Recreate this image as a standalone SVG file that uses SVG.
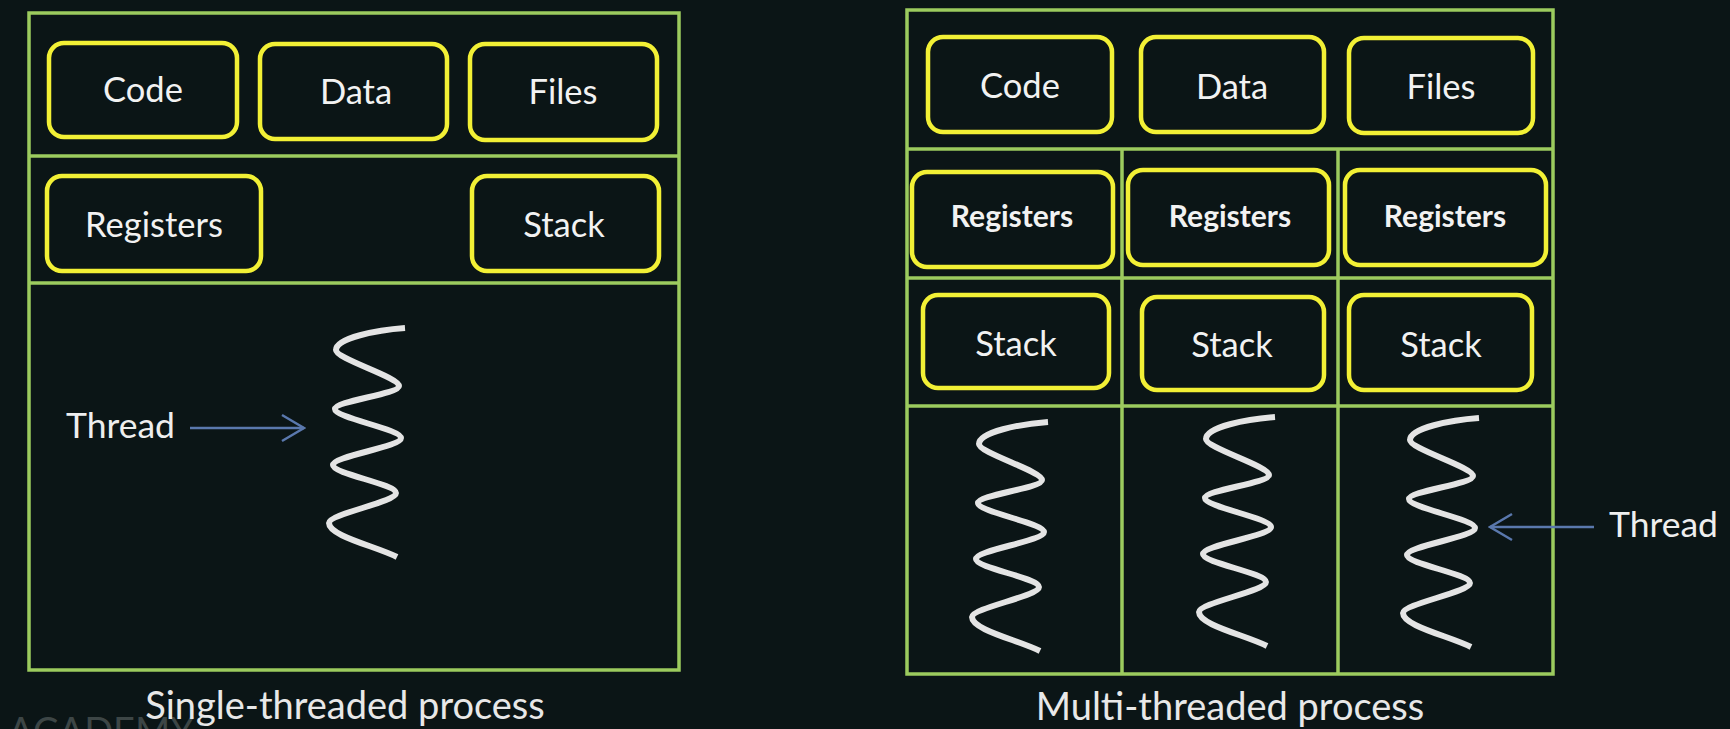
<svg xmlns="http://www.w3.org/2000/svg" width="1730" height="729" viewBox="0 0 1730 729">
<style>
.bg{fill:#0b1516}
.frame{fill:none;stroke:#9ccb5e;stroke-width:3.5}
.div{stroke:#9ccb5e;stroke-width:3.5}
.box{fill:#0b1516;stroke:#f2f035;stroke-width:4.5}
.t{font-family:Lato,"Open Sans","Liberation Sans",sans-serif;fill:#f2f2f2;text-anchor:middle}
.lbl{font-size:34.5px}
.bold{font-size:30px;font-weight:bold}
.title{font-size:38px;fill:#e8e8e8}
.th{font-family:Lato,"Open Sans","Liberation Sans",sans-serif;font-size:35.5px;fill:#eeeeee}
.wm{font-family:Lato,"Open Sans","Liberation Sans",sans-serif;font-size:38px;fill:#3d4646}
.spiral{fill:none;stroke:#e4e4e4;stroke-width:6}
.arrow{stroke:#5a78ad;stroke-width:2.5;fill:none}
</style>
<defs>
<marker id="chev" viewBox="0 0 26 30" refX="24" refY="15" markerWidth="26" markerHeight="30" markerUnits="userSpaceOnUse" orient="auto">
<path d="M2,2 L24,15 L2,28" fill="none" stroke="#5a78ad" stroke-width="2.5"/>
</marker>
<path id="sp" d="M0,0 C-28,2 -69,10 -69,22 C-69,31 -6,49 -6,58 C-6,66 -70,73 -70,81 C-70,90 -4,101 -4,110 C-4,119 -72,128 -72,137 C-72,146 -9,156 -9,165 C-9,174 -76,186 -76,195 C-76,208 -30,218 -8,229"/>
</defs>
<rect class="bg" x="0" y="0" width="1730" height="729"/>
<text class="wm" x="8" y="745">ACADEMY</text>

<g id="single-process">
<rect class="frame" x="29" y="13" width="650" height="657"/>
<line class="div" x1="29" y1="156" x2="679" y2="156"/>
<line class="div" x1="29" y1="283" x2="679" y2="283"/>
</g>
<g id="s-code"><rect class="box" x="49" y="43" width="188" height="94" rx="15"/><text class="t lbl" x="143" y="102">Code</text></g>
<g id="s-data"><rect class="box" x="260" y="44" width="187" height="95" rx="15"/><text class="t lbl" x="356" y="104">Data</text></g>
<g id="s-files"><rect class="box" x="470" y="44" width="187" height="96" rx="15"/><text class="t lbl" x="563" y="104">Files</text></g>
<g id="s-registers"><rect class="box" x="47" y="176" width="214" height="95" rx="15"/><text class="t lbl" x="154" y="237">Registers</text></g>
<g id="s-stack"><rect class="box" x="472" y="176" width="187" height="95" rx="15"/><text class="t lbl" x="564" y="237">Stack</text></g>
<g id="s-thread"><use href="#sp" class="spiral" transform="translate(405,328)"/></g>
<g id="s-thread-label"><text class="th" x="66" y="438">Thread</text></g>
<g id="s-title"><text class="t title" x="345" y="719">Single-threaded process</text></g>

<g id="multi-process">
<rect class="frame" x="907" y="10" width="646" height="664"/>
<line class="div" x1="907" y1="149" x2="1553" y2="149"/>
<line class="div" x1="907" y1="278" x2="1553" y2="278"/>
<line class="div" x1="907" y1="406" x2="1553" y2="406"/>
<line class="div" x1="1122" y1="149" x2="1122" y2="674"/>
<line class="div" x1="1338" y1="149" x2="1338" y2="674"/>
</g>
<g id="m-code"><rect class="box" x="928" y="37" width="184" height="95" rx="15"/><text class="t lbl" x="1020" y="98">Code</text></g>
<g id="m-data"><rect class="box" x="1141" y="37" width="183" height="95" rx="15"/><text class="t lbl" x="1232" y="99">Data</text></g>
<g id="m-files"><rect class="box" x="1349" y="38" width="184" height="95" rx="15"/><text class="t lbl" x="1441" y="99">Files</text></g>
<g id="m-registers-1"><rect class="box" x="912" y="172" width="201" height="95" rx="15"/><text class="t bold" x="1012" y="227">Registers</text></g>
<g id="m-registers-2"><rect class="box" x="1128" y="170" width="201" height="95" rx="15"/><text class="t bold" x="1230" y="227">Registers</text></g>
<g id="m-registers-3"><rect class="box" x="1345" y="170" width="201" height="95" rx="15"/><text class="t bold" x="1445" y="227">Registers</text></g>
<g id="m-stack-1"><rect class="box" x="923" y="295" width="186" height="93" rx="15"/><text class="t lbl" x="1016" y="356">Stack</text></g>
<g id="m-stack-2"><rect class="box" x="1142" y="297" width="182" height="93" rx="15"/><text class="t lbl" x="1232" y="357">Stack</text></g>
<g id="m-stack-3"><rect class="box" x="1349" y="295" width="183" height="95" rx="15"/><text class="t lbl" x="1441" y="357">Stack</text></g>
<g id="m-thread-1"><use href="#sp" class="spiral" transform="translate(1048,422)"/></g>
<g id="m-thread-2"><use href="#sp" class="spiral" transform="translate(1275,417)"/></g>
<g id="m-thread-3"><use href="#sp" class="spiral" transform="translate(1479,418)"/></g>
<g id="m-thread-label"><text class="th" x="1609" y="537">Thread</text></g>
<g id="m-title"><text class="t title" x="1230" y="720">Multi-threaded process</text></g>

<g id="connectors">
<line class="arrow" x1="190" y1="428" x2="304" y2="428" marker-end="url(#chev)"/>
<line class="arrow" x1="1594" y1="527" x2="1490" y2="527" marker-end="url(#chev)"/>
</g>
</svg>
